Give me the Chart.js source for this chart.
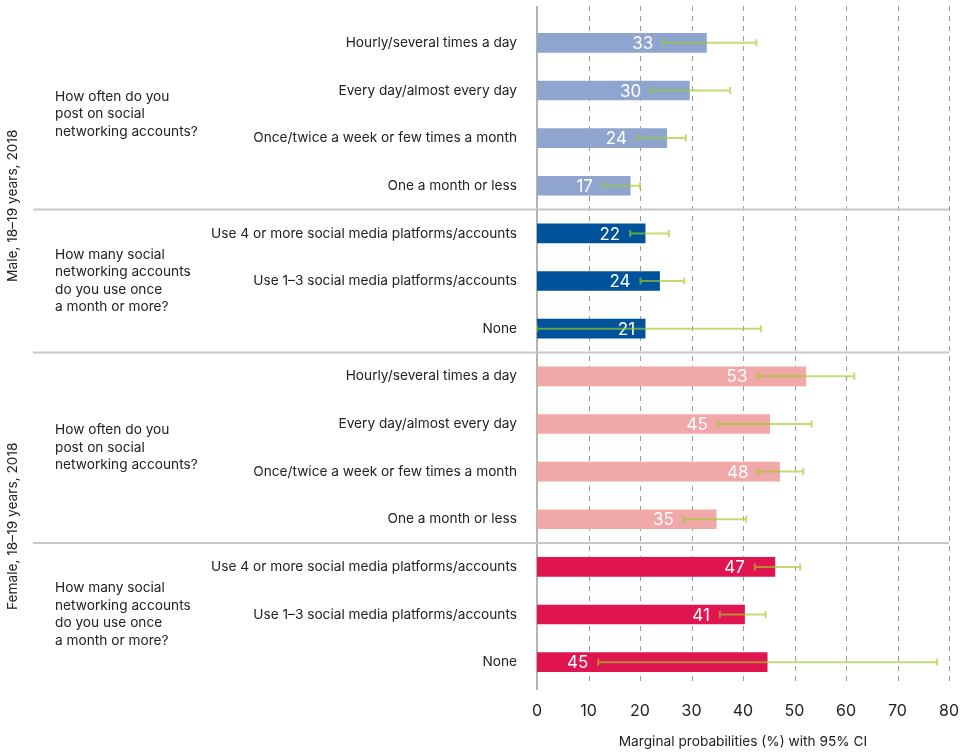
<!DOCTYPE html>
<html>
<head>
<meta charset="utf-8">
<script src="https://cdn.jsdelivr.net/npm/chart.js@4.4.1/dist/chart.umd.min.js"></script>
<style>
    body { margin: 0; background: #fff; }
    #wrap { width: 968px; height: 754px; }
</style>
</head>
<body>
<div id="wrap"><canvas id="chart" width="968" height="754"></canvas></div>
<script>
var categories = [
    'Hourly/several times a day',
    'Every day/almost every day',
    'Once/twice a week or few times a month',
    'One a month or less',
    'Use 4 or more social media platforms/accounts',
    'Use 1\u20133 social media platforms/accounts',
    'None',
    'Hourly/several times a day',
    'Every day/almost every day',
    'Once/twice a week or few times a month',
    'One a month or less',
    'Use 4 or more social media platforms/accounts',
    'Use 1\u20133 social media platforms/accounts',
    'None'
];
var barValues  = [32.9, 29.6, 25.2, 18.1, 21.0, 23.8, 21.0, 52.2, 45.2, 47.1, 34.8, 46.2, 40.3, 44.7];
var shownLabel = [33, 30, 24, 17, 22, 24, 21, 53, 45, 48, 35, 47, 41, 45];
var ciLow      = [24.5, 22.2, 19.4, 12.8, 18.1, 20.1, 0.0, 42.8, 35.1, 43.0, 28.5, 42.3, 35.5, 11.9];
var ciHigh     = [42.6, 37.5, 28.9, 20.0, 25.6, 28.6, 43.5, 61.6, 53.3, 51.7, 40.6, 51.1, 44.4, 77.7];
var xTicks     = [0, 10, 20, 30, 40, 50, 60, 70, 80];

// question groups: first row, last row, text lines
var groupFirst = [0, 4, 7, 11];
var groupLast  = [3, 6, 10, 13];
var groupText  = [
    ['How often do you', 'post on social', 'networking accounts?'],
    ['How many social', 'networking accounts', 'do you use once', 'a month or more?'],
    ['How often do you', 'post on social', 'networking accounts?'],
    ['How many social', 'networking accounts', 'do you use once', 'a month or more?']
];
var groupColors = ['#90a4d0', '#00529b', '#f0a8a8', '#e0144f'];
var sexLabels = ['Male, 18\u201319 years, 2018', 'Female, 18\u201319 years, 2018'];
var sexFirst  = [0, 7];
var sexLast   = [6, 13];

var FONT = 'Inter, "Noto Sans", sans-serif';

var barColors = [];
for (var g = 0; g < groupFirst.length; g++) {
    for (var r = groupFirst[g]; r <= groupLast[g]; r++) barColors[r] = groupColors[g];
}

// grid, separators, group texts, error bars, value labels
var decorPlugin = {
    id: 'decor',
    beforeDatasetsDraw: function(chart) {
        var c = chart.ctx, area = chart.chartArea, xs = chart.scales.x, ys = chart.scales.y;
        c.save();
        c.strokeStyle = '#9a9a9a';
        c.lineWidth = 1;
        c.setLineDash([5, 5]);
        for (var i = 1; i < xTicks.length; i++) {
            var x = Math.round(xs.getPixelForValue(xTicks[i])) + 0.5;
            c.beginPath(); c.moveTo(x, 6); c.lineTo(x, area.bottom); c.stroke();
        }
        c.setLineDash([]);
        c.strokeStyle = '#b4b4b4';
        c.lineWidth = 2;
        var x0 = xs.getPixelForValue(0);
        c.beginPath(); c.moveTo(x0, 6); c.lineTo(x0, area.bottom + 4); c.stroke();

        // section separators
        c.strokeStyle = '#c8c8c8';
        c.lineWidth = 2;
        for (var g = 0; g < groupLast.length - 1; g++) {
            var y = (ys.getPixelForValue(groupLast[g]) + ys.getPixelForValue(groupLast[g] + 1)) / 2;
            c.beginPath(); c.moveTo(33, y); c.lineTo(area.right, y); c.stroke();
        }

        // question texts
        c.fillStyle = '#222';
        c.font = '13.7px ' + FONT;
        c.textAlign = 'left';
        c.textBaseline = 'middle';
        for (var g2 = 0; g2 < groupText.length; g2++) {
            var mid = (ys.getPixelForValue(groupFirst[g2]) + ys.getPixelForValue(groupLast[g2])) / 2;
            var lines = groupText[g2];
            for (var k = 0; k < lines.length; k++) {
                c.fillText(lines[k], 55, mid + (k - (lines.length - 1) / 2) * 17.5);
            }
        }

        // rotated sex labels
        var offs = [20, 7];
        for (var s = 0; s < sexLabels.length; s++) {
            var m = (ys.getPixelForValue(sexFirst[s]) + ys.getPixelForValue(sexLast[s])) / 2 + offs[s];
            c.save();
            c.translate(13, m);
            c.rotate(-Math.PI / 2);
            c.textAlign = 'center';
            c.fillText(sexLabels[s], 0, 0);
            c.restore();
        }
        c.restore();
    },
    afterDatasetsDraw: function(chart) {
        var c = chart.ctx, xs = chart.scales.x, ys = chart.scales.y;
        c.save();
        // value labels
        c.fillStyle = '#fff';
        c.font = '17px ' + FONT;
        c.textAlign = 'right';
        c.textBaseline = 'middle';
        for (var i = 0; i < barValues.length; i++) {
            var anchor = ciLow[i] > 3 ? Math.min(ciLow[i], barValues[i]) : barValues[i];
            c.fillText(String(shownLabel[i]), xs.getPixelForValue(anchor) - 10, ys.getPixelForValue(i) + 1);
        }
        // error bars
        c.strokeStyle = 'rgba(155, 205, 40, 0.65)';
        c.lineWidth = 2;
        for (var j = 0; j < barValues.length; j++) {
            var y = ys.getPixelForValue(j);
            var a = xs.getPixelForValue(ciLow[j]), b = xs.getPixelForValue(ciHigh[j]);
            c.beginPath();
            c.moveTo(a, y); c.lineTo(b, y);
            c.moveTo(a, y - 3.5); c.lineTo(a, y + 3.5);
            c.moveTo(b, y - 3.5); c.lineTo(b, y + 3.5);
            c.stroke();
        }
        c.restore();
    }
};

var chart = new Chart(document.getElementById('chart').getContext('2d'), {
    type: 'bar',
    data: {
        labels: categories,
        datasets: [{
            data: barValues,
            backgroundColor: barColors,
            barThickness: 19
        }]
    },
    options: {
        indexAxis: 'y',
        responsive: false,
        animation: false,
        layout: { padding: { top: 19, right: 19, bottom: 0, left: 0 } },
        plugins: {
            legend: { display: false },
            tooltip: { enabled: false }
        },
        scales: {
            x: {
                min: 0,
                max: 80,
                grid: { display: false, drawTicks: false },
                border: { display: false },
                afterFit: function(scale) {
                    scale.height = 68;
                    scale.paddingLeft = 0;
                    scale.paddingRight = 0;
                },
                ticks: {
                    stepSize: 10,
                    padding: 16,
                    color: '#222',
                    font: { family: FONT, size: 16 }
                },
                title: {
                    display: true,
                    text: 'Marginal probabilities (%) with 95% CI',
                    color: '#222',
                    font: { family: FONT, size: 13.7 },
                    padding: { top: 0, bottom: 4 }
                }
            },
            y: {
                grid: { display: false, drawTicks: false },
                border: { display: false },
                afterFit: function(scale) {
                    scale.width = 537;
                    scale.paddingTop = 0;
                    scale.paddingBottom = 0;
                },
                ticks: {
                    padding: 20,
                    color: '#222',
                    font: { family: FONT, size: 13.7 }
                }
            }
        }
    },
    plugins: [decorPlugin]
});
</script>
</body>
</html>
